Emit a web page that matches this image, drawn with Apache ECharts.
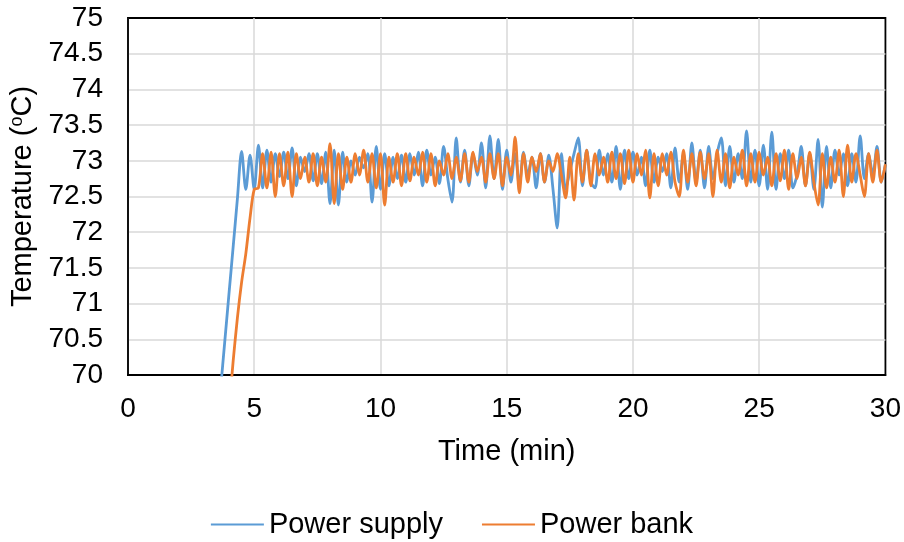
<!DOCTYPE html>
<html>
<head>
<meta charset="utf-8">
<script src="https://cdn.jsdelivr.net/npm/echarts@6/dist/echarts.min.js"></script>
<style>
  html, body { margin: 0; padding: 0; background: #fff; }
  #chart { width: 904px; height: 542px; }
</style>
</head>
<body>
<div id="chart"></div>
<script>
// sampling: one reading every 10 s (1/6 min)
const stepMin = 1 / 6;

// Power supply, first sample at 3.5 min
const supplyStart = 3.5;
const supplyTemp = [
  69.1, 69.8, 70.47, 71.14, 71.8, 72.47,
  73.13, 72.6, 73.08, 72.6, 73.22, 72.62,
  73.15, 72.7, 73.1, 72.78, 73.12, 72.75,
  73.18, 72.65, 73.05, 72.85, 73.1, 72.72,
  73.1, 72.68, 73.12, 72.4, 73.15, 72.38,
  73.12, 72.7, 73.0, 72.8, 73.05, 72.9,
  73.1, 72.42, 73.2, 72.6, 73.1, 72.65,
  73.05, 72.75, 73.08, 72.7, 73.1, 72.8,
  73.12, 72.65, 73.15, 72.8, 73.05, 72.68,
  73.2, 72.75, 72.42, 73.32, 72.7, 73.15,
  72.65, 73.1, 72.8, 73.25, 72.62, 73.35,
  72.75, 73.3, 72.6, 73.15, 72.7, 73.1,
  72.65, 73.12, 72.8, 73.05, 72.62, 73.1,
  72.7, 73.08, 72.6, 72.06, 73.1, 72.6,
  72.85, 73.1, 73.32, 72.65, 73.15, 72.7,
  72.62, 73.15, 72.8, 73.1, 72.7, 73.2,
  72.6, 73.15, 72.75, 73.12, 72.8, 73.05,
  72.65, 73.15, 72.7, 73.05, 72.85, 73.1,
  72.62, 73.18, 72.7, 73.1, 72.6, 73.25,
  72.7, 73.15, 72.62, 73.2, 72.75, 73.1,
  73.32, 72.65, 73.2, 72.7, 73.1, 72.75,
  73.42, 72.7, 73.15, 72.65, 73.22, 72.6,
  73.4, 72.6, 73.1, 72.75, 73.15, 72.62,
  72.8, 73.2, 72.65, 73.1, 72.6, 73.3,
  72.35, 73.2, 72.62, 73.15, 72.8, 73.1,
  72.65, 73.1, 72.7, 73.35, 72.75, 73.1,
  72.8, 73.2, 72.7, 72.95
];

// Power bank, first sample at 4 min
const bankStart = 4.0;
const bankTemp = [
  69.5, 70.2, 70.8, 71.3, 71.7, 72.2,
  72.6, 72.62, 73.1, 72.62, 73.12, 72.5,
  73.1, 72.65, 73.12, 72.5, 73.1, 72.75,
  73.05, 72.7, 73.1, 72.65, 73.05, 72.7,
  73.24, 72.4, 73.1, 72.6, 73.05, 72.7,
  73.1, 72.8, 73.15, 72.7, 73.1, 72.62,
  73.1, 72.38, 73.05, 72.7, 73.1, 72.65,
  73.1, 72.72, 73.05, 72.8, 73.12, 72.7,
  73.1, 72.65, 73.0, 72.8, 73.1, 72.75,
  73.05, 72.72, 73.1, 72.7, 73.12, 72.85,
  73.05, 72.7, 73.1, 72.75, 73.1, 72.65,
  73.05, 72.8, 73.33, 72.55, 73.1, 72.7,
  73.05, 72.85, 73.1, 72.7, 73.0, 72.85,
  73.1, 72.8, 72.48, 73.05, 72.45, 73.1,
  72.7, 73.15, 72.65, 73.1, 72.8, 73.05,
  72.7, 73.12, 72.75, 73.1, 72.68, 73.15,
  72.7, 73.1, 72.8, 73.15, 72.48, 73.1,
  72.65, 73.1, 72.8, 73.12, 72.7, 72.5,
  73.15, 72.7, 73.1, 72.65, 73.12, 72.75,
  73.1, 72.5, 73.15, 72.7, 73.1, 72.62,
  73.05, 72.8, 73.15, 72.65, 73.1, 72.7,
  73.12, 72.8, 73.05, 72.65, 73.1, 72.72,
  73.15, 72.6, 73.1, 72.75, 73.05, 72.65,
  73.12, 72.7, 72.38, 73.1, 72.62, 73.05,
  72.7, 73.15, 72.5, 73.22, 72.7, 73.1,
  72.8, 72.5, 73.1, 72.7, 73.15, 72.7,
  72.95
];

const seriesNames = ['Power supply', 'Power bank'];
const seriesColors = ['#5B9BD5', '#ED7D31'];

function toPoints(start, temps) {
  return temps.map((v, i) => [start + i * stepMin, v]);
}

const chart = echarts.init(document.getElementById('chart'));
const font = 'Liberation Sans, Arial, sans-serif';

const option = {
  animation: false,
  textStyle: { fontFamily: font },
  grid: {
    left: 128, right: 18, top: 18, bottom: 167,
    show: true, borderColor: '#000', borderWidth: 1.8, backgroundColor: 'transparent'
  },
  legend: {
    bottom: -2,
    left: 'center',
    itemWidth: 53,
    itemHeight: 2,
    itemGap: 39,
    icon: 'rect',
    textStyle: { fontSize: 29, color: '#000', fontFamily: font },
    data: seriesNames
  },
  xAxis: {
    type: 'value',
    min: 0, max: 30, interval: 5,
    name: 'Time (min)',
    nameLocation: 'middle',
    nameGap: 62,
    nameTextStyle: { fontSize: 29, color: '#000', fontFamily: font },
    axisLine: { lineStyle: { color: '#000', width: 1.8 } },
    axisTick: { show: false },
    axisLabel: { fontSize: 28, color: '#000', margin: 20, fontFamily: font },
    splitLine: { showMaxLine: false, lineStyle: { color: '#d9d9d9', width: 1.5 } }
  },
  yAxis: {
    type: 'value',
    min: 70, max: 75, interval: 0.5,
    name: '{a|Temperature (}{s|o}{a|C)}',
    nameLocation: 'middle',
    nameGap: 85,
    nameTextStyle: {
      rich: {
        a: { fontSize: 29, color: '#000', fontFamily: font },
        s: { fontSize: 18, color: '#000', fontFamily: font, padding: [0, 0, 12, 0] }
      }
    },
    axisLine: { show: true, lineStyle: { color: '#000', width: 1.8 } },
    axisTick: { show: false },
    axisLabel: { fontSize: 28, color: '#000', margin: 25, fontFamily: font },
    splitLine: { showMaxLine: false, lineStyle: { color: '#d9d9d9', width: 1.5 } }
  },
  series: [
    {
      name: seriesNames[0],
      type: 'line',
      data: toPoints(supplyStart, supplyTemp),
      smooth: 0.3,
      showSymbol: false,
      color: seriesColors[0],
      lineStyle: { width: 2.8 }
    },
    {
      name: seriesNames[1],
      type: 'line',
      data: toPoints(bankStart, bankTemp),
      smooth: 0.3,
      showSymbol: false,
      color: seriesColors[1],
      lineStyle: { width: 2.8 }
    }
  ]
};

chart.setOption(option);
</script>
</body>
</html>
